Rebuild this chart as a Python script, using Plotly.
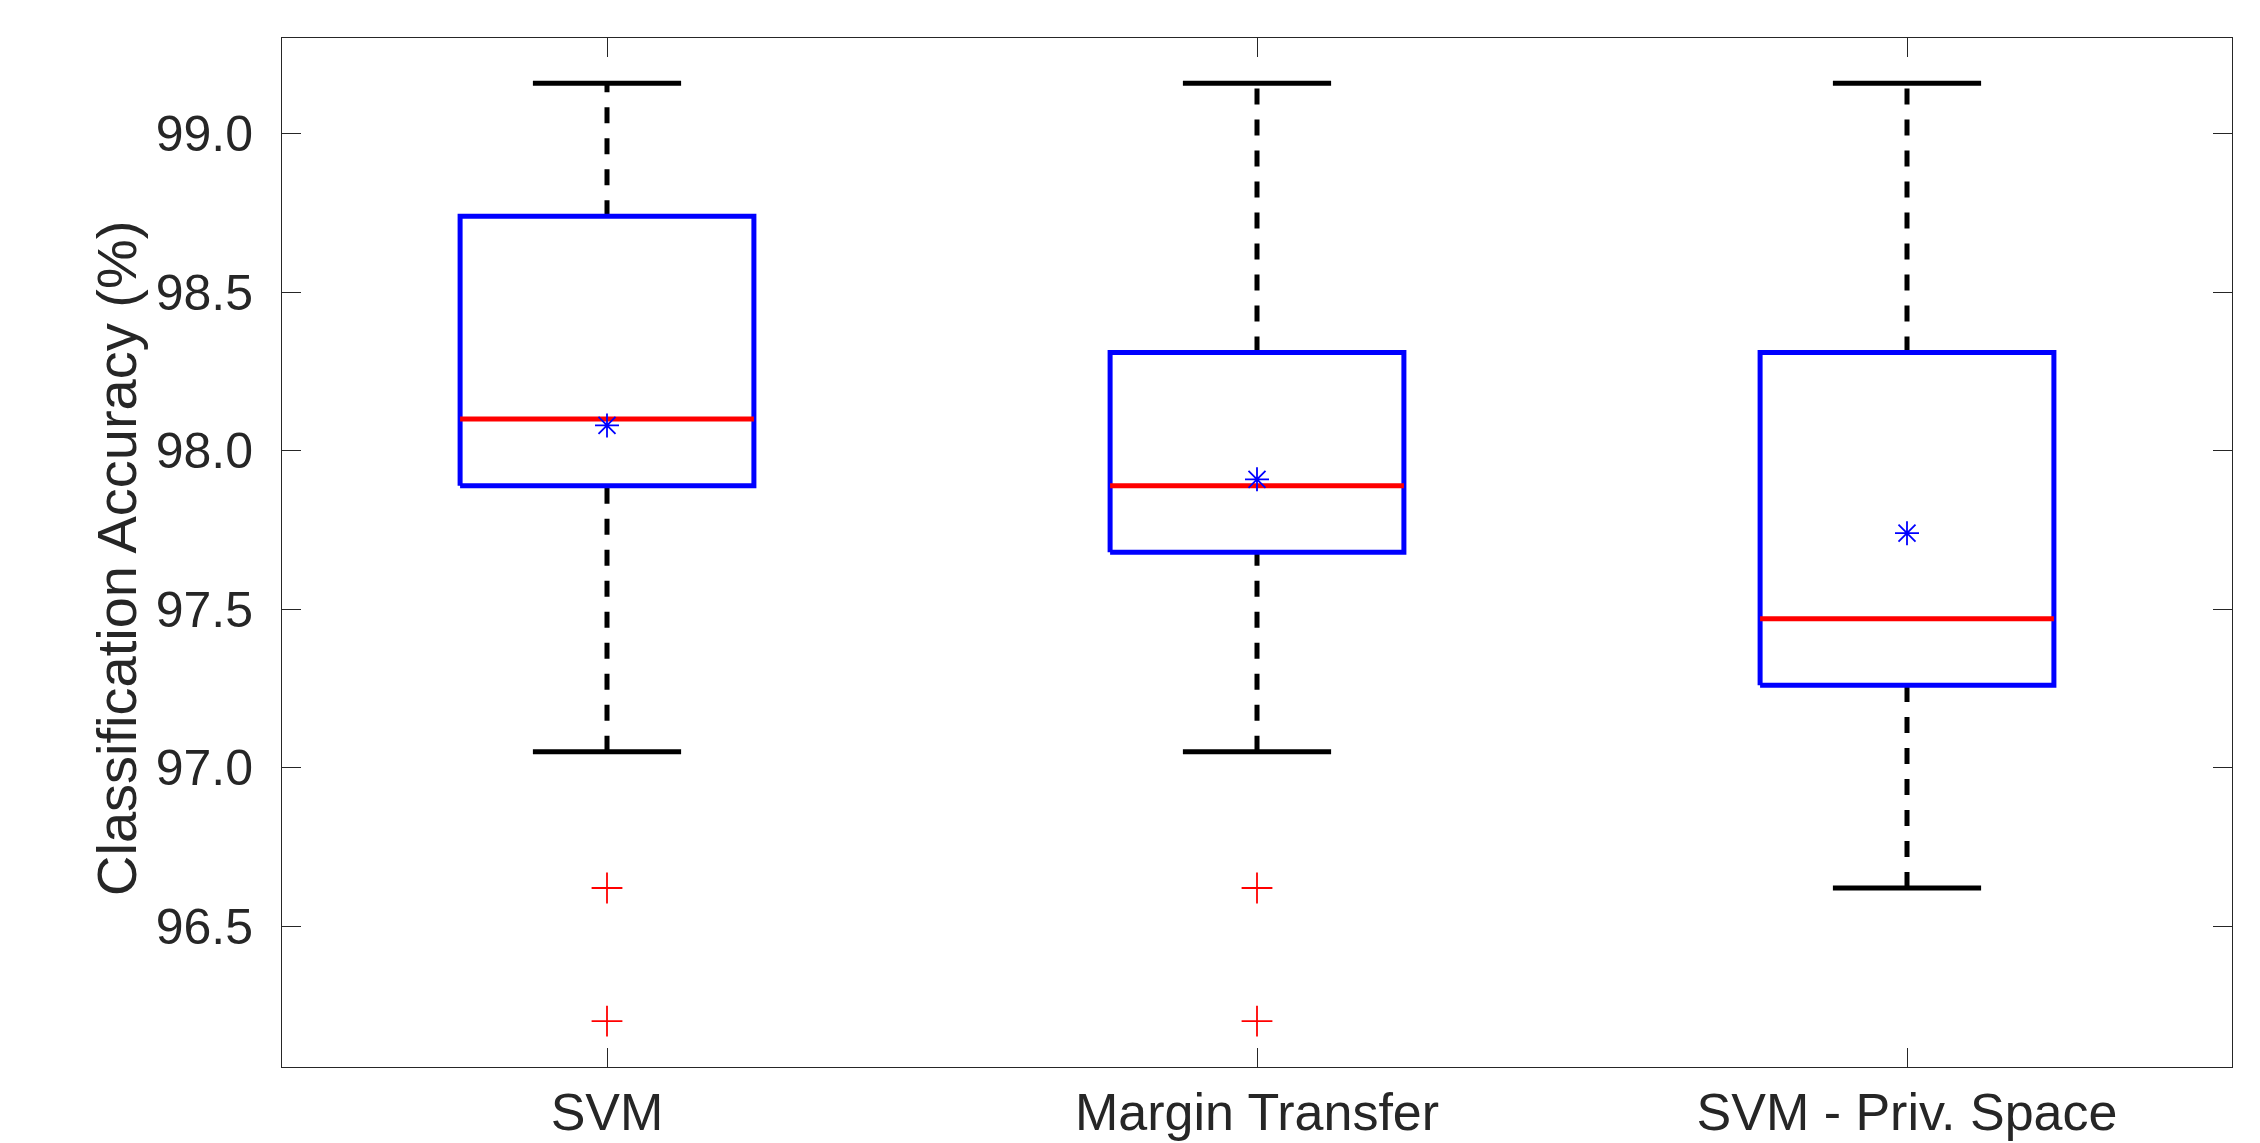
import plotly.graph_objects as go

# ---- data ----
categories = ["SVM", "Margin Transfer", "SVM - Priv. Space"]
upper_whisker = [99.16, 99.16, 99.16]
q3_values = [98.74, 98.31, 98.31]
median_values = [98.10, 97.89, 97.47]
q1_values = [97.89, 97.68, 97.26]
lower_whisker = [97.05, 97.05, 96.62]
mean_values = [98.08, 97.91, 97.74]
outlier_values = [[96.62, 96.20], [96.62, 96.20], []]
y_ticks = [96.5, 97.0, 97.5, 98.0, 98.5, 99.0]
y_title = "Classification Accuracy (%)"

# ---- style ----
BOX_HALF = 0.226
CAP_HALF = 0.114
AXIS_COLOR = "#262626"
FONT = "Liberation Sans, Arial, sans-serif"

positions = list(range(1, len(categories) + 1))

box_x, box_y = [], []
med_x, med_y = [], []
wh_x, wh_y = [], []
cap_x, cap_y = [], []
out_x, out_y = [], []
for p, lo, a, m, b, hi, outs in zip(positions, lower_whisker, q1_values, median_values,
                                     q3_values, upper_whisker, outlier_values):
    box_x += [p - BOX_HALF, p + BOX_HALF, p + BOX_HALF, p - BOX_HALF, p - BOX_HALF, None]
    box_y += [a, a, b, b, a, None]
    med_x += [p - BOX_HALF, p + BOX_HALF, None]
    med_y += [m, m, None]
    wh_x += [p, p, None, p, p, None]
    wh_y += [b, hi, None, lo, a, None]
    cap_x += [p - CAP_HALF, p + CAP_HALF, None, p - CAP_HALF, p + CAP_HALF, None]
    cap_y += [hi, hi, None, lo, lo, None]
    for o in outs:
        out_x.append(p)
        out_y.append(o)

fig = go.Figure()
fig.add_trace(go.Scatter(x=wh_x, y=wh_y, mode="lines",
                         line=dict(color="black", width=5, dash="16px,15px"),
                         hoverinfo="skip"))
fig.add_trace(go.Scatter(x=cap_x, y=cap_y, mode="lines",
                         line=dict(color="black", width=5), hoverinfo="skip"))
fig.add_trace(go.Scatter(x=box_x, y=box_y, mode="lines",
                         line=dict(color="#0000ff", width=5), hoverinfo="skip"))
fig.add_trace(go.Scatter(x=med_x, y=med_y, mode="lines",
                         line=dict(color="#ff0000", width=5), hoverinfo="skip"))
fig.add_trace(go.Scatter(x=out_x, y=out_y, mode="markers",
                         marker=dict(symbol="cross-thin-open", size=22, color="#ff0000",
                                     line=dict(color="#ff0000", width=1.8))))
fig.add_trace(go.Scatter(x=positions, y=mean_values, mode="markers",
                         marker=dict(symbol="asterisk-open", size=20, color="#0000ff",
                                     line=dict(color="#0000ff", width=1.8))))

fig.update_layout(
    width=2260, height=1143,
    margin=dict(l=274, r=36, t=30, b=84, pad=0, autoexpand=False),
    paper_bgcolor="white", plot_bgcolor="white",
    showlegend=False,
    font=dict(family=FONT, color=AXIS_COLOR),
    annotations=[dict(text=y_title, xref="paper", yref="paper",
                      x=-0.085, y=0.494, xanchor="center", yanchor="middle",
                      textangle=-90, showarrow=False,
                      font=dict(size=56, family=FONT, color=AXIS_COLOR))],
)
fig.update_xaxes(
    range=[0.5, 3.5], tickvals=positions, ticktext=categories,
    showgrid=False, zeroline=False, automargin=False,
    showline=True, linecolor=AXIS_COLOR, linewidth=1, mirror="allticks",
    ticks="inside", ticklen=19, tickcolor=AXIS_COLOR, tickwidth=1,
    tickfont=dict(size=52, family=FONT, color=AXIS_COLOR),
    ticklabelstandoff=0,
)
fig.update_yaxes(
    range=[96.055, 99.303], tickvals=y_ticks, tickformat=".1f",
    showgrid=False, zeroline=False, automargin=False,
    showline=True, linecolor=AXIS_COLOR, linewidth=1, mirror="allticks",
    ticks="inside", ticklen=19, tickcolor=AXIS_COLOR, tickwidth=1,
    tickfont=dict(size=50, family=FONT, color=AXIS_COLOR),
    ticklabelstandoff=18,
)

fig.write_html("out.html")
